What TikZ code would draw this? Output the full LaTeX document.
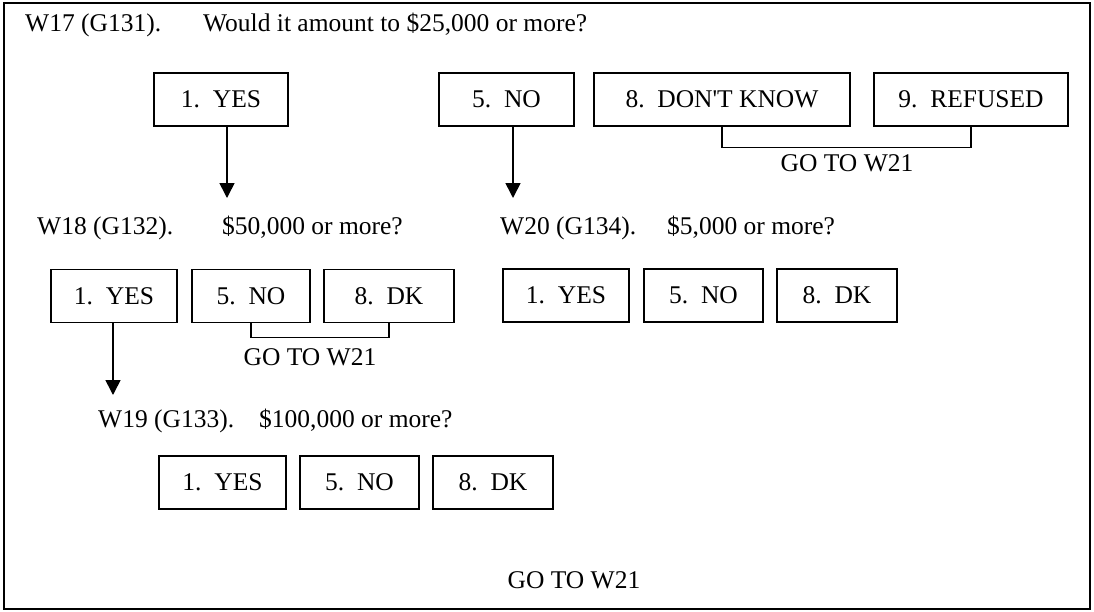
\documentclass[tikz,border=0pt]{standalone}
\usepackage{fontspec}
\setmainfont{Liberation Serif}[Ligatures=TeXOff]
\usetikzlibrary{arrows.meta}
\begin{document}
\begin{tikzpicture}[x=1pt,y=-1pt,
  txt/.style={font=\fontsize{25.5}{30}\selectfont},
  qtext/.style={txt,anchor=base west,inner sep=0pt},
  choice/.style={txt,draw,line width=1.5pt,inner sep=0pt,minimum height=53pt},
  goto/.style={txt,inner sep=0pt},
  flow/.style={line width=1.6pt,-{Triangle[width=15pt,length=15pt]}},
  brack/.style={line width=1.4pt}]
\useasboundingbox (0,0) rectangle (1094,611);
\draw[line width=1.6pt] (4,3) rectangle (1090,609);
% W17
\node[qtext] (q17a) at (25,31) {W17 (G131).};
\node[qtext] (q17b) at (203,31) {Would it amount to \$25,000 or more?};
\node[choice,minimum width=134pt] (yes1) at (221,99.5) {1.\ \ YES};
\node[choice,minimum width=135pt] (no1) at (506.5,99.5) {5.\ \ NO};
\node[choice,minimum width=256pt] (dk1) at (722,99.5) {8.\ \ DON'T KNOW};
\node[choice,minimum width=194pt] (ref1) at (971,99.5) {9.\ \ REFUSED};
\draw[brack] (dk1.south) -- ++(0,21) -| (ref1.south);
\node[goto] (g1) at (847,163) {GO TO W21};
\coordinate (t1) at (227,198);
\coordinate (t2) at (513,198);
\draw[flow] (yes1.south -| t1) -- (t1);
\draw[flow] (no1.south -| t2) -- (t2);
% W18
\node[qtext] (q18a) at (37,234) {W18 (G132).};
\node[qtext] (q18b) at (222,234) {\$50,000 or more?};
\node[choice,minimum width=126pt] (yes2) at (114,296) {1.\ \ YES};
\node[choice,minimum width=118pt] (no2) at (251,296) {5.\ \ NO};
\node[choice,minimum width=130pt] (dk2) at (389,296) {8.\ \ DK};
\draw[brack] (no2.south) -- ++(0,14) -| (dk2.south);
\node[goto] (g2) at (310,357) {GO TO W21};
\coordinate (t3) at (113,395);
\draw[flow] (yes2.south -| t3) -- (t3);
% W20
\node[qtext] (q20a) at (500,234) {W20 (G134).};
\node[qtext] (q20b) at (667,234) {\$5,000 or more?};
\node[choice,minimum width=126pt] (yes3) at (566,295.5) {1.\ \ YES};
\node[choice,minimum width=119pt] (no3) at (703.5,295.5) {5.\ \ NO};
\node[choice,minimum width=120pt] (dk3) at (837,295.5) {8.\ \ DK};
% W19
\node[qtext] (q19a) at (98,427) {W19 (G133).};
\node[qtext] (q19b) at (259,427) {\$100,000 or more?};
\node[choice,minimum width=127pt] (yes4) at (222.5,482.5) {1.\ \ YES};
\node[choice,minimum width=119pt] (no4) at (359.5,482.5) {5.\ \ NO};
\node[choice,minimum width=120pt] (dk4) at (493,482.5) {8.\ \ DK};
\node[goto] (g3) at (574,580) {GO TO W21};
\end{tikzpicture}
\end{document}
